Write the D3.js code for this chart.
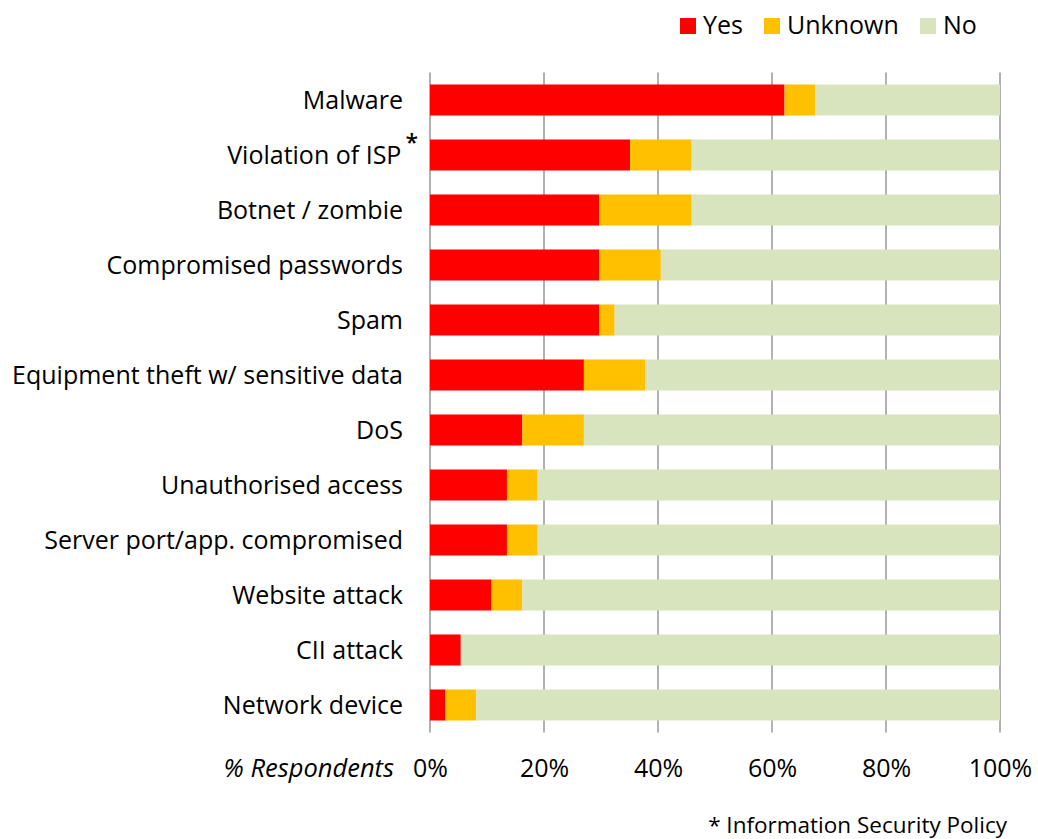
<!DOCTYPE html>
<html>
<head>
<meta charset="utf-8">
<script src="https://cdn.jsdelivr.net/npm/d3@7"></script>
<style>
  html, body { margin: 0; padding: 0; background: #fff; }
  svg { display: block; font-family: "Open Sans", Lato, sans-serif; }
</style>
</head>
<body>
<svg id="chart" width="1038" height="839"></svg>
<script>
// Incident types, top to bottom
const categories = [
  "Malware",
  "Violation of ISP",
  "Botnet / zombie",
  "Compromised passwords",
  "Spam",
  "Equipment theft w/ sensitive data",
  "DoS",
  "Unauthorised access",
  "Server port/app. compromised",
  "Website attack",
  "CII attack",
  "Network device"
];

// Share of respondents (%) per answer
const yesValues     = [62.2, 35.1, 29.7, 29.7, 29.7, 27.0, 16.2, 13.5, 13.5, 10.8, 5.4, 2.7];
const unknownValues = [5.4, 10.8, 16.2, 10.8, 2.7, 10.8, 10.8, 5.4, 5.4, 5.4, 0.0, 5.4];
const noValues      = [32.4, 54.1, 54.1, 59.5, 67.6, 62.2, 73.0, 81.1, 81.1, 83.8, 94.6, 91.9];

const seriesNames = ["Yes", "Unknown", "No"];
const seriesColors = ["#FF0000", "#FFC000", "#D7E4BD"];
const xTicks = [0, 20, 40, 60, 80, 100];
const footnoteMark = { "Violation of ISP": "*" };

const rows = categories.map((c, i) => ({
  category: c, Yes: yesValues[i], Unknown: unknownValues[i], No: noValues[i]
}));

const svg = d3.select("#chart");
const margin = { left: 430, right: 38, top: 72.5, bottom: 106.5 };
const width = 1038, height = 839;
const fontSize = 25;

const x = d3.scaleLinear().domain([0, 100]).range([margin.left, width - margin.right]);
const y = d3.scaleBand().domain(categories)
  .range([margin.top, height - margin.bottom])
  .paddingInner(0.436).paddingOuter(0.218);

// Vertical gridlines
svg.append("g")
  .selectAll("line")
  .data(xTicks)
  .join("line")
  .attr("x1", d => x(d)).attr("x2", d => x(d))
  .attr("y1", margin.top).attr("y2", height - margin.bottom)
  .attr("stroke", "#878787")
  .attr("stroke-width", 1.3);

// Stacked bars
const stack = d3.stack().keys(seriesNames);
const layers = stack(rows);
const color = d3.scaleOrdinal().domain(seriesNames).range(seriesColors);

svg.append("g")
  .selectAll("g")
  .data(layers)
  .join("g")
  .attr("fill", d => color(d.key))
  .selectAll("rect")
  .data(d => d)
  .join("rect")
  .attr("x", d => x(d[0]))
  .attr("width", d => x(d[1]) - x(d[0]))
  .attr("y", d => y(d.data.category))
  .attr("height", y.bandwidth());

// Category labels
const labels = svg.append("g")
  .selectAll("text")
  .data(categories)
  .join("text")
  .attr("x", d => footnoteMark[d] ? 418 : 403)
  .attr("y", d => y(d) + y.bandwidth() / 2)
  .attr("dy", "0.36em")
  .attr("text-anchor", "end")
  .attr("font-size", fontSize)
  .attr("fill", "#000");
labels.append("tspan").text(d => d);
labels.filter(d => footnoteMark[d])
  .append("tspan")
  .attr("dx", 4)
  .attr("dy", "-0.55em")
  .attr("font-size", 23)
  .attr("font-weight", 600)
  .text(d => footnoteMark[d]);

// X axis tick labels
const axis = d3.axisBottom(x)
  .tickValues(xTicks)
  .tickFormat(d => d + "%")
  .tickSize(0)
  .tickPadding(0);
const axisG = svg.append("g")
  .attr("transform", `translate(0, ${height - margin.bottom + 27})`)
  .call(axis);
axisG.select(".domain").remove();
axisG.selectAll("text")
  .attr("font-size", fontSize)
  .attr("font-family", "'Open Sans', Lato, sans-serif")
  .attr("fill", "#000");

// Axis title
svg.append("text")
  .attr("x", 394)
  .attr("y", 777)
  .attr("text-anchor", "end")
  .attr("font-size", 25.5)
  .attr("font-style", "italic")
  .text("% Respondents");

// Legend
const legend = svg.append("g");
const legendX = [680, 764, 920];
seriesNames.forEach((s, i) => {
  legend.append("rect")
    .attr("x", legendX[i]).attr("y", 18)
    .attr("width", 16).attr("height", 16)
    .attr("fill", seriesColors[i]);
  legend.append("text")
    .attr("x", legendX[i] + 23).attr("y", 34)
    .attr("font-size", fontSize)
    .text(s);
});

// Footnote
svg.append("text")
  .attr("x", 1007)
  .attr("y", 833)
  .attr("text-anchor", "end")
  .attr("font-size", 22.5)
  .text("* Information Security Policy");
</script>
</body>
</html>
